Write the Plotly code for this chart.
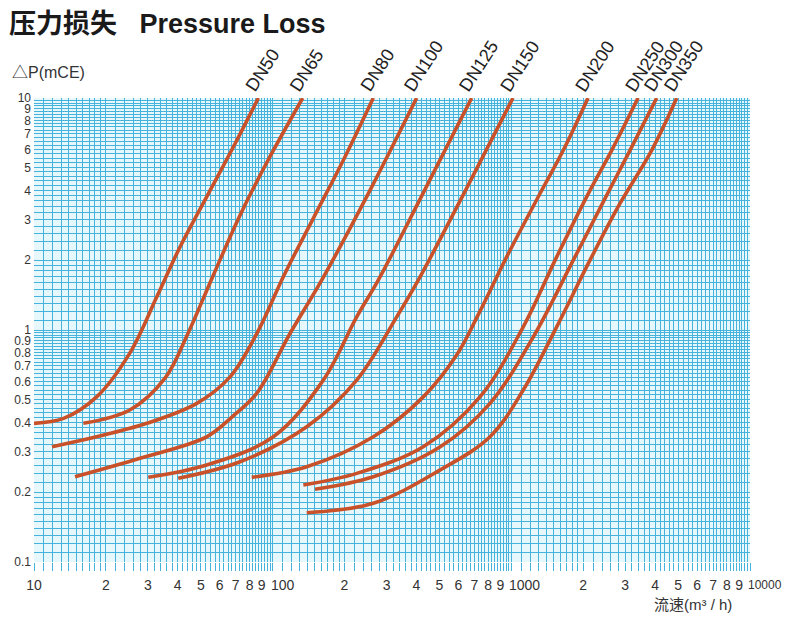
import math
import plotly.graph_objects as go

# ---- data (flow m3/h, pressure loss mCE) ----
sizes = ["DN50", "DN65", "DN80", "DN100", "DN125", "DN150", "DN200", "DN250", "DN300", "DN350"]

dn50_q = [10, 13.3, 18.3, 25.2, 32.7, 40.9, 52.9, 68.4, 87.1]
dn50_dp = [0.396, 0.416, 0.515, 0.795, 1.39, 2.28, 3.75, 6.15, 10]

dn65_q = [16.1, 25.2, 35.4, 44.2, 55.7, 73.0, 95.6, 133.6]
dn65_dp = [0.396, 0.452, 0.620, 0.969, 1.672, 3.124, 5.39, 10]

dn80_q = [11.9, 18.3, 29.7, 48.1, 66.3, 86.0, 111.6, 148, 197.7, 264]
dn80_dp = [0.314, 0.3465, 0.396, 0.483, 0.628, 0.969, 1.722, 3.03, 5.39, 10]

dn100_q = [14.85, 27.8, 52.9, 68.2, 85.7, 118.2, 160.5, 255.7, 401]
dn100_dp = [0.233, 0.280, 0.3465, 0.4255, 0.533, 0.966, 1.64, 4.00, 10]

dn125_q = [30.1, 52.9, 100.6, 163, 225, 277, 435, 682]
dn125_dp = [0.2317, 0.2618, 0.3465, 0.608, 1.139, 1.64, 4.04, 10]

dn150_q = [40.2, 73.0, 138.9, 225, 331, 407.5, 646, 1016]
dn150_dp = [0.2294, 0.2704, 0.3827, 0.608, 1.139, 1.64, 4.04, 10]

dn200_q = [81.7, 138.9, 264, 427.6, 590, 725, 956, 1319, 1651, 2095]
dn200_dp = [0.2317, 0.2573, 0.3465, 0.515, 0.78, 1.159, 2.066, 3.876, 5.95, 10]

dn250_q = [134.4, 225, 427.6, 739, 1122, 1549, 2136, 2634, 3395]
dn250_dp = [0.2147, 0.241, 0.314, 0.515, 1.032, 2.066, 4.00, 5.95, 10]

dn300_q = [150.4, 264, 502, 814, 1236, 1818, 2353, 3142, 4064]
dn300_dp = [0.2057, 0.233, 0.313, 0.483, 0.934, 2.0, 3.35, 5.95, 10]

dn350_q = [138.9, 264, 502, 814, 1122, 1549, 2136, 2853, 3873, 4930]
dn350_dp = [0.1631, 0.179, 0.249, 0.3465, 0.551, 1.032, 2.0, 3.51, 5.95, 10]

x_tickvals = [10, 20, 30, 40, 50, 60, 70, 80, 90, 100, 200, 300, 400, 500, 600, 700, 800, 900,
              1000, 2000, 3000, 4000, 5000, 6000, 7000, 8000, 9000, 10000]
x_ticktext = ["10", "2", "3", "4", "5", "6", "7", "8", "9", "100", "2", "3", "4", "5", "6", "7", "8", "9",
              "1000", "2", "3", "4", "5", "6", "7", "8", "9", "10000"]
# labels drawn just to the right of their tick (as in the reference)
x_side_labels = ["100", "1000", "10000"]

y_tickvals = [0.1, 0.2, 0.3, 0.4, 0.5, 0.6, 0.7, 0.8, 0.9, 1, 2, 3, 4, 5, 6, 7, 8, 9, 10]
y_ticktext = ["0.1", "0.2", "0.3", "0.4", "0.5", "0.6", "0.7", "0.8", "0.9", "1",
              "2", "3", "4", "5", "6", "7", "8", "9", "10"]

series_q = [dn50_q, dn65_q, dn80_q, dn100_q, dn125_q, dn150_q, dn200_q, dn250_q, dn300_q, dn350_q]
series_dp = [dn50_dp, dn65_dp, dn80_dp, dn100_dp, dn125_dp, dn150_dp, dn200_dp, dn250_dp, dn300_dp, dn350_dp]

# ---- styling ----
GRID = "#45b3db"
BG = "#e6f8fc"
CURVE = "#c8512a"
FONT = "Arial, Liberation Sans, Noto Sans CJK SC, sans-serif"
TXT = "#333333"


def log_paper(decades):
    vals = []
    for d in decades:
        m = 1.0
        while m < 10 - 1e-9:
            if m < 2 - 1e-9:
                step = 0.1
            elif m < 5 - 1e-9:
                step = 0.2
            else:
                step = 0.25
            vals.append(round(m * d, 6))
            m = round(m + step, 6)
    return vals


x_minor = log_paper([10, 100, 1000])
y_minor = log_paper([0.1, 1])

fig = go.Figure()
for name, q, dp in zip(sizes, series_q, series_dp):
    fig.add_trace(go.Scatter(
        x=q, y=dp, mode="lines", name=name,
        line=dict(color=CURVE, width=3.6, shape="spline", smoothing=1.0),
        showlegend=False, hoverinfo="skip",
    ))

annotations = []
for name, q in zip(sizes, series_q):
    annotations.append(dict(
        x=math.log10(q[-1]), y=1, xref="x", yref="paper",
        text=name, textangle=-57, showarrow=False,
        xanchor="left", yanchor="bottom", xshift=-19, yshift=0,
        font=dict(family=FONT, size=18, color="#222222"),
    ))

x_ticktext_shown = ["" if t in x_side_labels else t for t in x_ticktext]
for v, t in zip(x_tickvals, x_ticktext):
    if t in x_side_labels:
        annotations.append(dict(
            x=math.log10(v), y=0, xref="x", yref="paper", text=t, showarrow=False,
            xanchor="left", yanchor="middle", xshift=-3, yshift=-23, borderpad=0,
            font=dict(family=FONT, size=14 if t != "10000" else 12, color=TXT),
        ))

annotations.append(dict(
    x=-0.0363, y=1.1938, xref="paper", yref="paper", xanchor="left", yanchor="top",
    text="<b>压力损失\u00a0\u00a0\u00a0Pressure Loss</b>", showarrow=False, borderpad=0,
    font=dict(family=FONT, size=27, color="#1a1a1a"),
))
annotations.append(dict(
    x=-0.0335, y=1.0553, xref="paper", yref="paper", xanchor="left", yanchor="middle",
    text="△P(mCE)", showarrow=False,
    font=dict(family=FONT, size=16, color=TXT),
))
annotations.append(dict(
    x=0.92, y=-0.0926, xref="paper", yref="paper", xanchor="center", yanchor="middle",
    text="流速(m³ / h)", showarrow=False,
    font=dict(family=FONT, size=15, color=TXT),
))

# page body has an 8px margin, so the figure is 8px smaller than the window
fig.update_layout(
    width=782, height=611,
    margin=dict(l=26, r=40, t=90, b=57, autoexpand=False),
    paper_bgcolor="white", plot_bgcolor=BG,
    annotations=annotations,
    xaxis=dict(
        type="log", range=[1, 4], tickmode="array", automargin=False,
        tickvals=x_tickvals, ticktext=x_ticktext_shown, tickangle=0,
        showgrid=True, gridcolor=GRID, gridwidth=1.3,
        ticks="outside", ticklen=8, tickcolor=GRID, tickwidth=1.3,
        ticklabelstandoff=2,
        tickfont=dict(family=FONT, size=14, color=TXT),
        minor=dict(tickvals=x_minor, showgrid=True, gridcolor=GRID, gridwidth=1,
                   ticks="outside", ticklen=8, tickcolor=GRID, tickwidth=1),
        showline=False, zeroline=False,
    ),
    yaxis=dict(
        type="log", range=[-1, 1], tickmode="array", automargin=False,
        tickvals=y_tickvals, ticktext=y_ticktext,
        showgrid=True, gridcolor=GRID, gridwidth=1.3,
        ticks="", ticklabelstandoff=2,
        tickfont=dict(family=FONT, size=12, color=TXT),
        minor=dict(tickvals=y_minor, showgrid=True, gridcolor=GRID, gridwidth=1),
        showline=False, zeroline=False,
    ),
)

fig.write_html("out.html")
